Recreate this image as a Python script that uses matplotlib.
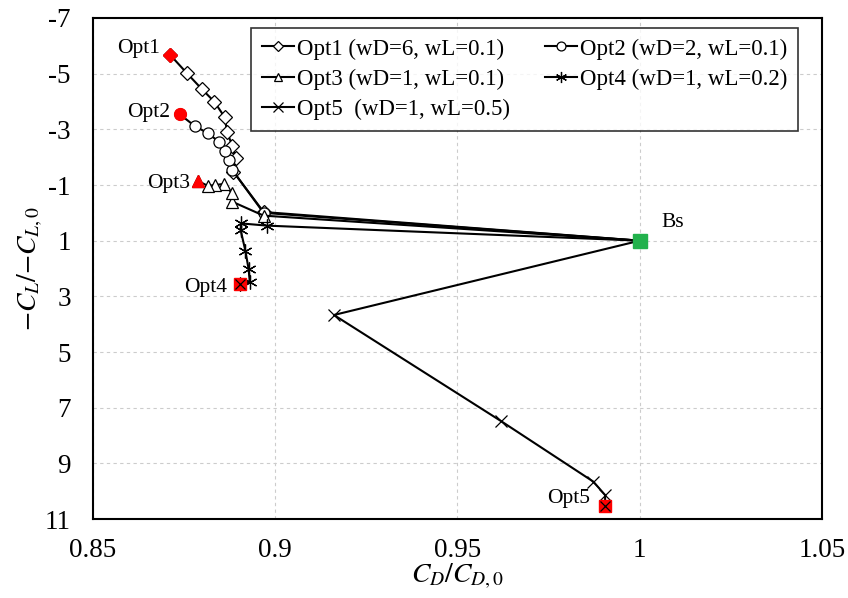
import matplotlib.pyplot as plt

plt.rcParams['font.family'] = 'Liberation Serif'
plt.rcParams['mathtext.fontset'] = 'stix'
plt.rcParams['axes.unicode_minus'] = False

# Verlauf der Optimierungen (CD/CD0, CL/CL0), Start jeweils bei Bs
opt1_cd = [1.0, 0.8968, 0.8885, 0.8891, 0.8882, 0.8868, 0.8861, 0.8833, 0.8799, 0.8758, 0.8712]
opt1_cl = [1.0, -0.03, -1.48, -1.96, -2.40, -2.91, -3.44, -3.99, -4.44, -5.01, -5.67]

opt2_cd = [1.0, 0.8968, 0.8882, 0.8873, 0.8861, 0.8845, 0.8815, 0.8779, 0.8738]
opt2_cl = [1.0, 0.0, -1.54, -1.90, -2.23, -2.56, -2.86, -3.12, -3.54]

opt3_cd = [1.0, 0.8968, 0.8882, 0.8882, 0.8859, 0.8836, 0.8815, 0.8787]
opt3_cl = [1.0, 0.10, -0.40, -0.70, -1.04, -1.00, -0.97, -1.15]

opt4_cd = [1.0, 0.8978, 0.8906, 0.8905, 0.8918, 0.8927, 0.8930, 0.8902]
opt4_cl = [1.0, 0.46, 0.38, 0.62, 1.36, 2.03, 2.47, 2.57]

opt5_cd = [1.0, 0.9161, 0.9618, 0.9873, 0.9905, 0.9905]
opt5_cl = [1.0, 3.67, 7.47, 9.66, 10.14, 10.53]

labels = ['Opt1 (wD=6, wL=0.1)', 'Opt2 (wD=2, wL=0.1)', 'Opt3 (wD=1, wL=0.1)',
          'Opt4 (wD=1, wL=0.2)', 'Opt5  (wD=1, wL=0.5)']

fig = plt.figure(figsize=(8.48, 5.98), dpi=100)
ax = fig.add_axes([0.1097, 0.1321, 0.8596, 0.8378])

h1, = ax.plot(opt1_cd, opt1_cl, '-', color='black', lw=1.5, marker='D', ms=7,
              mfc='white', mec='black', mew=0.9)
h2, = ax.plot(opt2_cd, opt2_cl, '-', color='black', lw=1.5, marker='o', ms=8,
              mfc='white', mec='black', mew=0.9)
h3, = ax.plot(opt3_cd, opt3_cl, '-', color='black', lw=1.5, marker='^', ms=8,
              mfc='white', mec='black', mew=0.9)
h4, = ax.plot(opt4_cd, opt4_cl, '-', color='black', lw=1.5, marker=(6, 2, 0), ms=10,
              mec='black', mew=0.9)
h5, = ax.plot(opt5_cd, opt5_cl, '-', color='black', lw=1.5, marker='x', ms=9,
              mec='black', mew=0.9)

# Endpunkte rot, Basis gruen
ax.plot(opt1_cd[-1], opt1_cl[-1], 'D', color='red', ms=7, zorder=5)
ax.plot(opt2_cd[-1], opt2_cl[-1], 'o', color='red', ms=8.5, zorder=5)
ax.plot(opt3_cd[-1], opt3_cl[-1], '^', color='red', ms=8, zorder=5)
ax.plot(opt4_cd[-1], opt4_cl[-1], 's', color='red', ms=8.5, zorder=5)
ax.plot(opt4_cd[-1], opt4_cl[-1], 'x', color='black', ms=7, mew=0.9, zorder=6)
ax.plot(opt5_cd[-1], opt5_cl[-1], 's', color='red', ms=8.5, zorder=5)
ax.plot(opt5_cd[-1], opt5_cl[-1], 'x', color='black', ms=7, mew=0.9, zorder=6)
ax.plot(1.0, 1.0, 's', color='#22b14c', ms=9.5, zorder=6)

fs = 15.5
ax.text(0.8684, -5.92, 'Opt1', ha='right', va='center', fontsize=fs)
ax.text(0.8712, -3.59, 'Opt2', ha='right', va='center', fontsize=fs)
ax.text(0.8767, -1.07, 'Opt3', ha='right', va='center', fontsize=fs)
ax.text(0.8869, 2.67, 'Opt4', ha='right', va='center', fontsize=fs)
ax.text(0.9863, 10.25, 'Opt5', ha='right', va='center', fontsize=fs)
ax.text(1.006, 0.33, 'Bs', ha='left', va='center', fontsize=fs)

ax.set_xlim(0.85, 1.05)
ax.set_ylim(11, -7)
ax.set_xticks([0.85, 0.9, 0.95, 1.0, 1.05])
ax.set_xticklabels(['0.85', '0.9', '0.95', '1', '1.05'])
ax.set_yticks(range(-7, 12, 2))
ax.tick_params(length=0, labelsize=19.5)
ax.tick_params(axis='x', pad=14)
ax.tick_params(axis='y', pad=16)
ax.grid(True, ls=(0, (3, 3)), color='#cccccc', lw=0.8)
for s in ax.spines.values():
    s.set_linewidth(1.5)

ax.set_xlabel(r'$C_D/C_{D,0}$', fontsize=20, labelpad=-1)
ax.set_ylabel(r'${-}C_L/{-}C_{L,0}$', fontsize=20, labelpad=0)

leg = ax.legend([h1, h3, h5, h2, h4], [labels[0], labels[2], labels[4], labels[1], labels[3]],
                ncol=2, loc='upper right', bbox_to_anchor=(0.967, 0.98), fontsize=16.5,
                frameon=True, fancybox=False, edgecolor='black', handlelength=1.4,
                handletextpad=0.15, columnspacing=1.5, borderpad=0.45, labelspacing=0.4,
                borderaxespad=0, markerscale=0.8)
leg.get_frame().set_linewidth(1.2)

fig.savefig('out.png', dpi=100)
